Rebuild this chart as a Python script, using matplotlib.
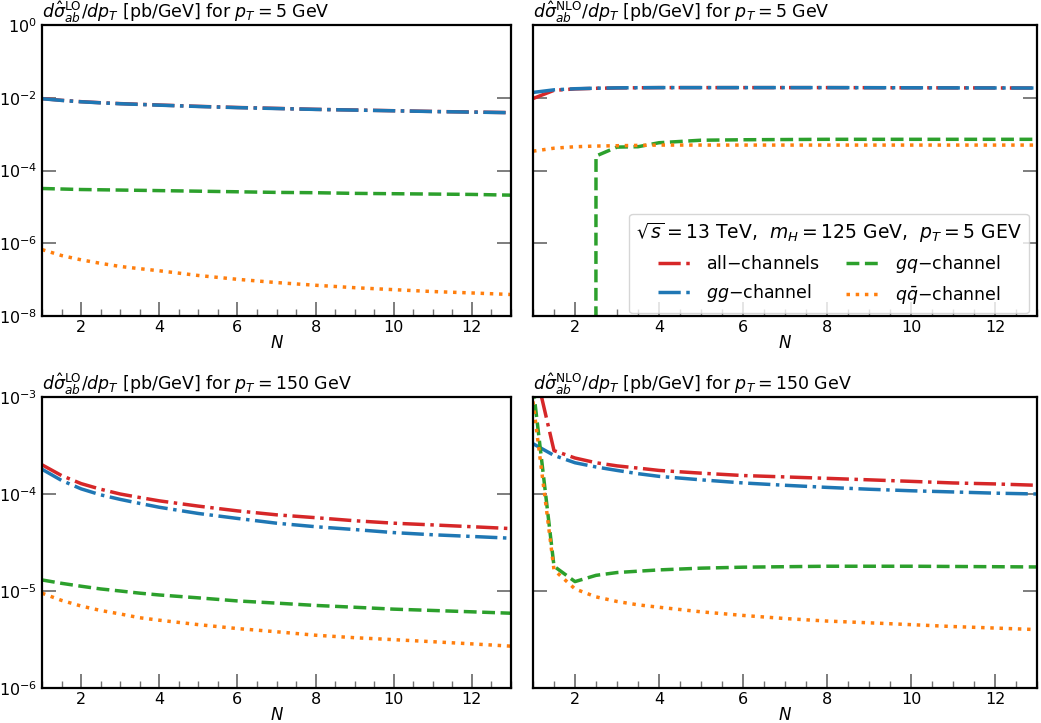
import numpy as np
import matplotlib
matplotlib.use("Agg")
import matplotlib.pyplot as plt
from matplotlib.ticker import FixedLocator, MultipleLocator, NullLocator

# ---------------- data ----------------
N = [1, 1.5, 2, 2.5, 3, 3.5, 4, 5, 6, 7, 8, 9, 10, 11, 12, 13]

# LO, pT = 5 GeV
lo5_all = [9.5e-3, 8.5e-3, 7.8e-3, 7.3e-3, 6.9e-3, 6.6e-3, 6.3e-3, 5.8e-3,
           5.4e-3, 5.1e-3, 4.8e-3, 4.6e-3, 4.4e-3, 4.2e-3, 4.05e-3, 3.9e-3]
lo5_gg = [9.4e-3, 8.45e-3, 7.75e-3, 7.25e-3, 6.85e-3, 6.55e-3, 6.25e-3, 5.75e-3,
          5.35e-3, 5.05e-3, 4.78e-3, 4.58e-3, 4.38e-3, 4.18e-3, 4.03e-3, 3.88e-3]
lo5_gq = [3.2e-5, 3.1e-5, 3.0e-5, 2.95e-5, 2.9e-5, 2.85e-5, 2.8e-5, 2.7e-5,
          2.6e-5, 2.5e-5, 2.45e-5, 2.35e-5, 2.3e-5, 2.25e-5, 2.2e-5, 2.1e-5]
lo5_qq = [6.7e-7, 4.6e-7, 3.5e-7, 2.8e-7, 2.3e-7, 2.0e-7, 1.75e-7, 1.3e-7,
          1.02e-7, 8.3e-8, 7.0e-8, 6.0e-8, 5.3e-8, 4.7e-8, 4.3e-8, 3.9e-8]

# NLO, pT = 5 GeV
nlo5_all = [9.5e-3, 1.6e-2, 1.75e-2, 1.82e-2, 1.86e-2, 1.88e-2, 1.9e-2, 1.9e-2,
            1.9e-2, 1.9e-2, 1.9e-2, 1.89e-2, 1.88e-2, 1.87e-2, 1.86e-2, 1.85e-2]
nlo5_gg = [1.4e-2, 1.65e-2, 1.77e-2, 1.83e-2, 1.87e-2, 1.89e-2, 1.9e-2, 1.9e-2,
           1.9e-2, 1.9e-2, 1.9e-2, 1.89e-2, 1.88e-2, 1.87e-2, 1.86e-2, 1.85e-2]
nlo5_gq = [-2e-4, -2e-4, -2e-4, 2.5e-4, 4.4e-4, 4.5e-4, 5.8e-4, 6.8e-4,
           7.0e-4, 7.1e-4, 7.2e-4, 7.2e-4, 7.2e-4, 7.2e-4, 7.2e-4, 7.2e-4]
nlo5_qq = [3.4e-4, 4.1e-4, 4.5e-4, 4.7e-4, 4.8e-4, 4.9e-4, 5.0e-4, 5.0e-4,
           5.0e-4, 5.0e-4, 5.0e-4, 5.0e-4, 5.0e-4, 5.0e-4, 5.0e-4, 5.0e-4]

# LO, pT = 150 GeV
lo150_all = [2.0e-4, 1.55e-4, 1.28e-4, 1.12e-4, 1.0e-4, 9.2e-5, 8.5e-5, 7.5e-5,
             6.7e-5, 6.1e-5, 5.7e-5, 5.3e-5, 5.0e-5, 4.8e-5, 4.6e-5, 4.4e-5]
lo150_gg = [1.8e-4, 1.38e-4, 1.13e-4, 9.8e-5, 8.8e-5, 8.0e-5, 7.3e-5, 6.3e-5,
            5.6e-5, 5.0e-5, 4.6e-5, 4.3e-5, 4.0e-5, 3.8e-5, 3.65e-5, 3.5e-5]
lo150_gq = [1.3e-5, 1.2e-5, 1.12e-5, 1.05e-5, 1.0e-5, 9.5e-6, 9.1e-6, 8.5e-6,
            7.9e-6, 7.5e-6, 7.1e-6, 6.8e-6, 6.5e-6, 6.3e-6, 6.1e-6, 5.9e-6]
lo150_qq = [9.5e-6, 8.0e-6, 7.0e-6, 6.3e-6, 5.8e-6, 5.3e-6, 5.0e-6, 4.5e-6,
            4.1e-6, 3.8e-6, 3.5e-6, 3.3e-6, 3.15e-6, 3.0e-6, 2.85e-6, 2.7e-6]

# NLO, pT = 150 GeV
nlo150_all = [2.4e-3, 2.8e-4, 2.35e-4, 2.1e-4, 1.95e-4, 1.85e-4, 1.75e-4, 1.64e-4,
              1.55e-4, 1.5e-4, 1.45e-4, 1.4e-4, 1.35e-4, 1.3e-4, 1.27e-4, 1.23e-4]
nlo150_gg = [3.3e-4, 2.5e-4, 2.1e-4, 1.9e-4, 1.75e-4, 1.62e-4, 1.52e-4, 1.4e-4,
             1.3e-4, 1.23e-4, 1.17e-4, 1.12e-4, 1.08e-4, 1.05e-4, 1.02e-4, 1.0e-4]
nlo150_gq = [1.3e-3, 1.8e-5, 1.25e-5, 1.45e-5, 1.55e-5, 1.6e-5, 1.65e-5, 1.72e-5,
             1.76e-5, 1.78e-5, 1.8e-5, 1.8e-5, 1.8e-5, 1.79e-5, 1.78e-5, 1.77e-5]
nlo150_qq = [9e-4, 1.65e-5, 1.05e-5, 8.7e-6, 7.8e-6, 7.2e-6, 6.8e-6, 6.1e-6,
             5.6e-6, 5.2e-6, 4.9e-6, 4.7e-6, 4.5e-6, 4.3e-6, 4.15e-6, 4.0e-6]

labels = [r"all$-$channels", r"$gg$$-$channel", r"$gq$$-$channel", r"$q\bar{q}$$-$channel"]
colors = ["#d62728", "#1f77b4", "#2ca02c", "#ff7f0e"]
styles = ["-.", "-.", "--", ":"]

titles = [r"$d\hat{\sigma}^{\rm LO}_{ab}/dp_T$ [pb/GeV] for $p_T = 5$ GeV",
          r"$d\hat{\sigma}^{\rm NLO}_{ab}/dp_T$ [pb/GeV] for $p_T = 5$ GeV",
          r"$d\hat{\sigma}^{\rm LO}_{ab}/dp_T$ [pb/GeV] for $p_T = 150$ GeV",
          r"$d\hat{\sigma}^{\rm NLO}_{ab}/dp_T$ [pb/GeV] for $p_T = 150$ GeV"]

panels = [
    [lo5_all, lo5_gg, lo5_gq, lo5_qq],
    [nlo5_all, nlo5_gg, nlo5_gq, nlo5_qq],
    [lo150_all, lo150_gg, lo150_gq, lo150_qq],
    [nlo150_all, nlo150_gg, nlo150_gq, nlo150_qq],
]

W, H = 1041, 723
fig = plt.figure(figsize=(W / 100, H / 100), dpi=100)

boxes = [(42, 25, 511, 316), (533, 25, 1037, 316),
         (42, 397, 511, 688), (533, 397, 1037, 688)]
ylims = [(1e-8, 1), (1e-8, 1), (1e-6, 1e-3), (1e-6, 1e-3)]
yticks = [[1e-8, 1e-6, 1e-4, 1e-2, 1], [1e-8, 1e-6, 1e-4, 1e-2, 1],
          [1e-6, 1e-5, 1e-4, 1e-3], [1e-6, 1e-5, 1e-4, 1e-3]]

axes = []
for i, (x0, y0, x1, y1) in enumerate(boxes):
    ax = fig.add_axes([x0 / W, 1 - y1 / H, (x1 - x0) / W, (y1 - y0) / H])
    axes.append(ax)
    ax.set_yscale("log")
    for data, c, ls, lab in zip(panels[i], colors, styles, labels):
        ax.plot(N, data, color=c, ls=ls, lw=2.5, label=lab)
    ax.set_xlim(1, 13)
    ax.set_ylim(*ylims[i])
    ax.xaxis.set_major_locator(MultipleLocator(2))
    ax.xaxis.set_minor_locator(MultipleLocator(0.5))
    ax.yaxis.set_major_locator(FixedLocator(yticks[i]))
    ax.yaxis.set_minor_locator(NullLocator())
    ax.tick_params(axis="both", which="both", direction="in", color="0.45",
                   labelsize=11.5, labelcolor="black")
    ax.tick_params(axis="x", which="major", length=10, width=1.3, pad=3)
    ax.tick_params(axis="x", which="minor", length=5, width=1.0)
    ax.tick_params(axis="y", which="major", length=10, width=1.3, left=True, right=True)
    if i % 2 == 1:
        ax.tick_params(axis="y", labelleft=False)
    for s in ax.spines.values():
        s.set_linewidth(1.6)
        s.set_color("black")
    ax.set_title(titles[i], loc="left", fontsize=12.5, pad=2)
    ax.set_xlabel(r"$N$", fontsize=12, labelpad=-1)

leg = axes[1].legend(ncol=2, loc="lower right", bbox_to_anchor=(0.984, 0.01),
                     borderaxespad=0, fontsize=12.5,
                     title=r"$\sqrt{s} = 13$ TeV, $\ m_H = 125$ GeV, $\ p_T = 5$ GEV",
                     title_fontsize=13.5, columnspacing=1.5, handlelength=2.0)

fig.savefig("out.png", dpi=100)
